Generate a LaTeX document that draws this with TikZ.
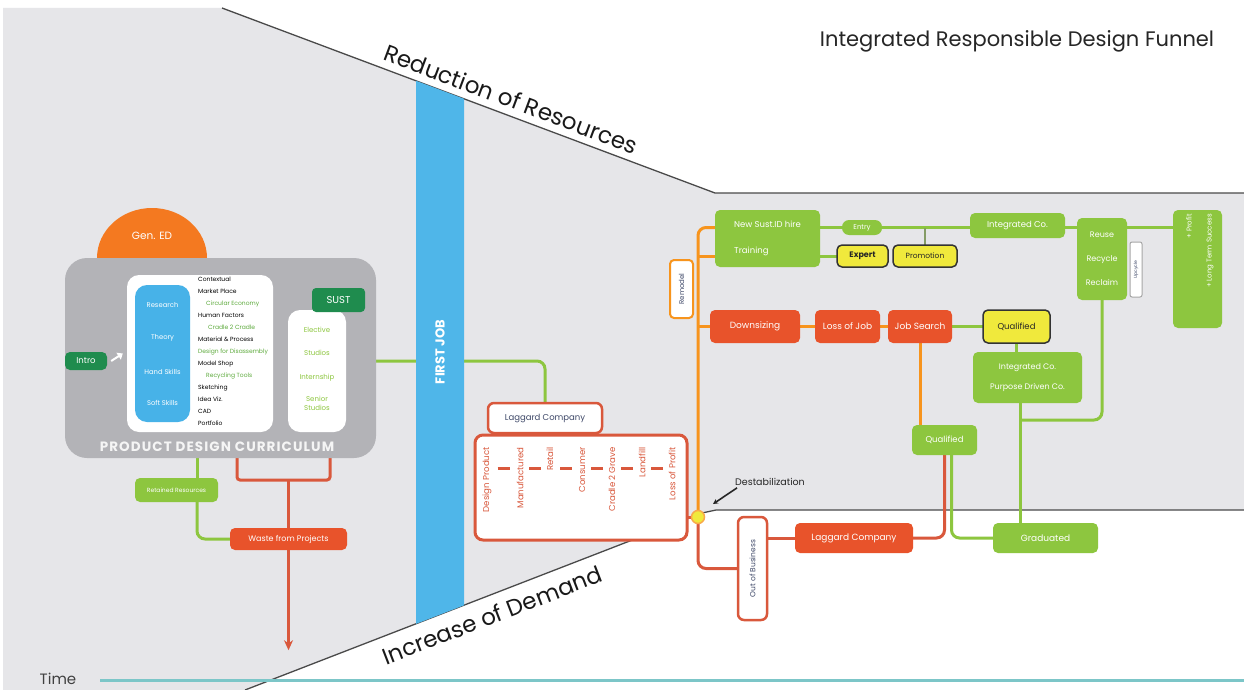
\documentclass[tikz,border=0pt]{standalone}
\usepackage{fontspec}
\setmainfont{Poppins}
\usetikzlibrary{arrows.meta,calc}
\definecolor{bggray}{HTML}{E6E6E9}
\definecolor{cgray}{HTML}{B3B3B7}
\definecolor{genor}{HTML}{F47920}
\definecolor{fjblue}{HTML}{4FB6E9}
\definecolor{inblue}{HTML}{47B2E8}
\definecolor{dgreen}{HTML}{1F8C4E}
\definecolor{lgreen}{HTML}{8DC63F}
\definecolor{listgreen}{HTML}{5DAA3C}
\definecolor{redbox}{HTML}{E8532B}
\definecolor{orl}{HTML}{F7941D}
\definecolor{lagred}{HTML}{D9583C}
\definecolor{yel}{HTML}{F0E93C}
\definecolor{tealline}{HTML}{7CC6C8}
\definecolor{navy}{HTML}{3E4868}
\definecolor{funl}{HTML}{4A4A4A}
\pgfdeclarelayer{bglayer}
\pgfdeclarelayer{linelayer}
\pgfsetlayers{bglayer,linelayer,main}
\newcommand{\myfs}[1]{\fontsize{#1}{#1}\selectfont}
\newcommand{\myfsl}[2]{\fontsize{#1}{#2}\selectfont}
\tikzset{
  sz/.style 2 args={minimum width=#1, minimum height=#2},
  gbox/.style={fill=lgreen, rounded corners=5pt, text=white, inner sep=0pt, font=\myfs{8.5}},
  rbox/.style={fill=redbox, rounded corners=5pt, text=white, inner sep=0pt, font=\myfs{9}},
  ybox/.style={fill=yel, draw=black!80, line width=1.5pt, rounded corners=5pt, text=black!85, inner sep=0pt, font=\myfs{8}},
  wbox/.style={fill=white, draw=lagred, line width=2.5pt, rounded corners=6pt, text=navy, inner sep=0pt},
  gline/.style={draw=lgreen, line width=3pt},
  oline/.style={draw=orl, line width=3pt},
  rline/.style={draw=lagred, line width=3pt},
  plain/.style={inner sep=0pt},
  collab/.style={rotate=90, anchor=east, text=lagred, inner sep=0pt, font=\myfs{8.6}},
}
\begin{document}
\begin{tikzpicture}[x=1pt,y=-1pt]
\useasboundingbox (0,0) rectangle (1244,690);
% ---------- background funnel
\begin{pgfonlayer}{bglayer}
\fill[white] (0,0) rectangle (1244,690);
\fill[bggray] (3,8) -- (222,8) -- (715,193) -- (1244,193) -- (1244,510) -- (716,510) -- (702,513) -- (245,690) -- (3,690) -- cycle;
\draw[funl, line width=1.3pt] (222,8) -- (715,193) -- (1244,193);
\draw[funl, line width=1.3pt] (245,690) -- (702,513) -- (716,510) -- (1244,510);
\draw[tealline, line width=3pt] (100,680) -- (1244,680);
\end{pgfonlayer}

% ---------- blue bar
\fill[fjblue] (416,80.8) -- (464,98.8) -- (464,605.3) -- (416,623.9) -- cycle;
\node[rotate=90, text=white, font=\myfs{13}\bfseries, plain] (firstjob) at (440,352) {FIRST JOB};

% ---------- texts
\node[font=\myfs{21}, text=black!85, plain] (title) at (1017,41) {Integrated Responsible Design Funnel};
\node[font=\myfs{23}, text=black!90, rotate=-20.57, plain] (reduction) at (511,99) {Reduction of Resources};
\node[font=\myfs{23}, text=black!90, rotate=21.15, plain] (increase) at (492,615) {Increase of Demand};
\node[font=\myfs{15}, text=black!75, plain] (time) at (58,679) {Time};

% ---------- curriculum
\fill[genor] (97,258) arc[start angle=180, end angle=0, x radius=55pt, y radius=50pt] -- cycle;
\node[text=white, font=\myfs{10.5}, plain] (gened) at (152,236) {Gen. ED};
\node[fill=cgray, rounded corners=22pt, sz={311pt}{200pt}] (currbox) at (220.5,358) {};
\node[fill=white, rounded corners=12pt, sz={146pt}{157pt}] (whitebox) at (200,353.5) {};
\node[fill=inblue, rounded corners=12pt, sz={55pt}{137pt}] (bluebox) at (162.5,353.5) {};
\node[text=white, font=\myfs{6.8}, plain] (research) at (162.5,305) {Research};
\node[text=white, font=\myfs{6.8}, plain] (theory) at (162.5,338) {Theory};
\node[text=white, font=\myfs{6.8}, plain] (hand) at (162.5,372) {Hand Skills};
\node[text=white, font=\myfs{6.8}, plain] (soft) at (162.5,403) {Soft Skills};
\node[anchor=north west, align=left, plain, font=\myfsl{6}{12}, text=black] (list) at (198,277)
 {Contextual\\Market Place\\\hspace*{8pt}\textcolor{listgreen}{Circular Economy}\\Human Factors\\\hspace*{10pt}\textcolor{listgreen}{Cradle 2 Cradle}\\Material \& Process\\\textcolor{listgreen}{Design for Disassembly}\\Model Shop\\\hspace*{8pt}\textcolor{listgreen}{Recycling Tools}\\Sketching\\Idea Viz.\\CAD\\Portfolio};
\node[fill=white, rounded corners=12pt, sz={58pt}{122pt}] (sustwhite) at (317,371) {};
\node[fill=dgreen, rounded corners=4pt, sz={53pt}{24pt}, text=white, font=\myfs{10}, plain] (sust) at (338.5,300) {SUST};
\node[text=lgreen, font=\myfs{7}, plain] (elective) at (317,330) {Elective};
\node[text=lgreen, font=\myfs{7}, plain] (studios) at (317,353) {Studios};
\node[text=lgreen, font=\myfs{7}, plain] (intern) at (317,378) {Internship};
\node[text=lgreen, font=\myfsl{7}{9}, align=center, plain] (senior) at (317,403) {Senior\\Studios};
\node[fill=dgreen, rounded corners=5pt, sz={42pt}{18pt}, text=white, font=\myfs{8.5}, plain] (intro) at (86,361) {Intro};
\draw[white, line width=2pt, -{Triangle[length=5pt,width=8pt]}] ([xshift=4pt]intro.east) -- ([xshift=-4pt]whitebox.west);
\node[text=white!96!black, font=\myfs{13.5}\bfseries\addfontfeatures{LetterSpace=8}, plain] (pdc) at (217,447) {PRODUCT DESIGN CURRICULUM};

\node[gbox, sz={83pt}{24pt}, font=\myfs{6}] (retained) at (176.5,490) {Retained Resources};
\node[rbox, sz={117pt}{22pt}, font=\myfs{8}] (waste) at (288.5,539) {Waste from Projects};

% ---------- laggard company
\node[wbox, sz={114pt}{30pt}, font=\myfs{8.5}] (tab) at (545,418) {Laggard Company};
\node[wbox, line width=3pt, rounded corners=8pt, sz={212pt}{105pt}] (bigbox) at (581,487.5) {};
\foreach \x/\t [count=\i] in {487/Design Product,520/Manufactured,550/Retail,582/Consumer,612/Cradle 2 Grave,642/Landfill,672/Loss of Profit}
  \node[collab] (c\i) at (\x,447) {\t};
\foreach \a/\b in {1/2,2/3,3/4,4/5,5/6,6/7}
  \draw[lagred, line width=3pt] ($(c\a.east)!0.5!(c\b.east)+(-6,21)$) -- ++(12,0);

% ---------- right side nodes
\node[circle, fill=yel, draw=orl!80, line width=1.5pt, minimum size=13pt, inner sep=0pt] (dot) at (698,517) {};
\node[plain, font=\myfs{9.5}, text=black!85] (destab) at (770,482) {Destabilization};
\coordinate (arrend) at (713,504);
\draw[black!85, line width=1.6pt, -{Stealth[length=5pt,width=5pt]}] ([xshift=2pt,yshift=-2pt]destab.south west) -- (arrend);

\node[fill=white, draw=orl, line width=2pt, rounded corners=4pt, rotate=90, sz={58pt}{23pt}, text=navy, font=\myfs{7}, inner sep=0pt] (remodel) at (681.5,289) {Remodel};
\node[wbox, rotate=90, sz={103pt}{29pt}, font=\myfs{7.5}] (outbiz) at (752.5,568.5) {Out of Business};
\node[rbox, sz={118pt}{30pt}] (lag2) at (854,538) {Laggard Company};
\node[gbox, sz={105pt}{30pt}, font=\myfs{9}] (graduated) at (1045.5,538) {Graduated};

\node[gbox, sz={105pt}{57pt}, align=left, font=\myfsl{8.5}{26}] (newsust) at (767.5,238.5) {New Sust.ID hire\\Training};
\node[gbox, rounded corners=7pt, sz={40pt}{15pt}, font=\myfs{7}] (entry) at (862,227.5) {Entry};
\node[gbox, sz={95pt}{25pt}] (intco) at (1017.5,225.5) {Integrated Co.};
\node[ybox, sz={51pt}{22pt}, font=\myfs{8}\bfseries] (expert) at (862.5,256) {Expert};
\node[ybox, sz={64pt}{22pt}, font=\myfs{7.5}] (promo) at (925,256) {Promotion};
\node[gbox, sz={50pt}{82pt}, align=center, font=\myfsl{8}{24}] (reuse) at (1102,259) {Reuse\\Recycle\\Reclaim};
\node[fill=white, draw=gray!70, line width=1pt, rounded corners=2pt, rotate=90, sz={55pt}{12pt}, font=\myfs{4.5}, text=navy, inner sep=0pt] (smallbox) at (1136,269.5) {Upcycle};
\node[gbox, sz={49pt}{118pt}] (rightbox) at (1197.5,269) {};
\node[rotate=90, anchor=east, text=white, font=\myfs{7}, plain] (profit) at (1189,214) {+ Profit};
\node[rotate=90, anchor=east, text=white, font=\myfs{7}, plain] (longterm) at (1210,214) {+ Long Term Success};

\node[rbox, sz={90pt}{33pt}] (downs) at (755,326.5) {Downsizing};
\node[rbox, sz={65pt}{33pt}] (lossjob) at (847.5,326.5) {Loss of Job};
\node[rbox, sz={64pt}{33pt}] (jobsearch) at (920,326.5) {Job Search};
\node[ybox, sz={67pt}{33pt}, font=\myfs{8.5}] (qualy) at (1016.5,326.5) {Qualified};
\node[gbox, sz={109pt}{51pt}, align=center, font=\myfsl{8}{20}] (intpur) at (1027.5,377.5) {Integrated Co.\\Purpose Driven Co.};
\node[gbox, sz={65pt}{30pt}] (qualg) at (944.5,440) {Qualified};

% ---------- connectors
\coordinate (gA) at (197,0);
\coordinate (o1) at (237,0);
\coordinate (o2) at (330,0);
\coordinate (oy) at (0,480);
\coordinate (gv) at (1020,0);
\coordinate (rr) at (0,420);
\begin{pgfonlayer}{linelayer}
\draw[gline, rounded corners=8pt] (sustwhite.east |- intro.center) -| (tab.north);
\draw[gline] (currbox.south -| gA) -- (retained.north -| gA);
\draw[gline, rounded corners=8pt] (retained.south -| gA) |- (waste.center);
\draw[rline, rounded corners=3pt] (o1 |- currbox.south) -- (o1 |- oy) -- (o2 |- oy) -- (o2 |- currbox.south);
\draw[rline] (waste.center |- oy) -- (waste.center);
\draw[rline, -{Stealth[length=10pt,width=9pt]}] (waste.south) -- ++(0,100);

\draw[gline] (newsust.center |- entry) -- (rightbox.center |- entry);
\draw[gline] (newsust.center |- expert) -- (expert.center);
\draw[draw=gray!60!lgreen, line width=2pt] (promo.center) -- (promo.center |- entry);
\draw[gline] (jobsearch.center) -- (qualy.center);
\draw[gline] (qualy.center) -- (qualy.center |- intpur.center);
\draw[gline] (intpur.center -| gv) -- (graduated.center -| gv);
\draw[gline, rounded corners=8pt] (reuse.center) |- (gv |- rr);
\draw[gline, rounded corners=8pt] ([xshift=7pt]qualg.center) |- (graduated.center);

\draw[oline, rounded corners=8pt] (dot.center) |- (newsust.center |- entry);
\draw[oline] (dot.center |- expert) -- (newsust.center |- expert);
\draw[oline] (dot.center |- downs) -- (jobsearch.center);
\draw[oline] (jobsearch.center) -- (jobsearch.center |- qualg.center);

\draw[rline] (bigbox.center |- dot) -- (dot.center);
\draw[rline, rounded corners=8pt] (dot.center) |- (outbiz.center);
\draw[rline] (outbiz.center |- lag2) -- (lag2.center);
\draw[rline, rounded corners=8pt] (lag2.center) -| (qualg.center);
\end{pgfonlayer}
\end{tikzpicture}
\end{document}
